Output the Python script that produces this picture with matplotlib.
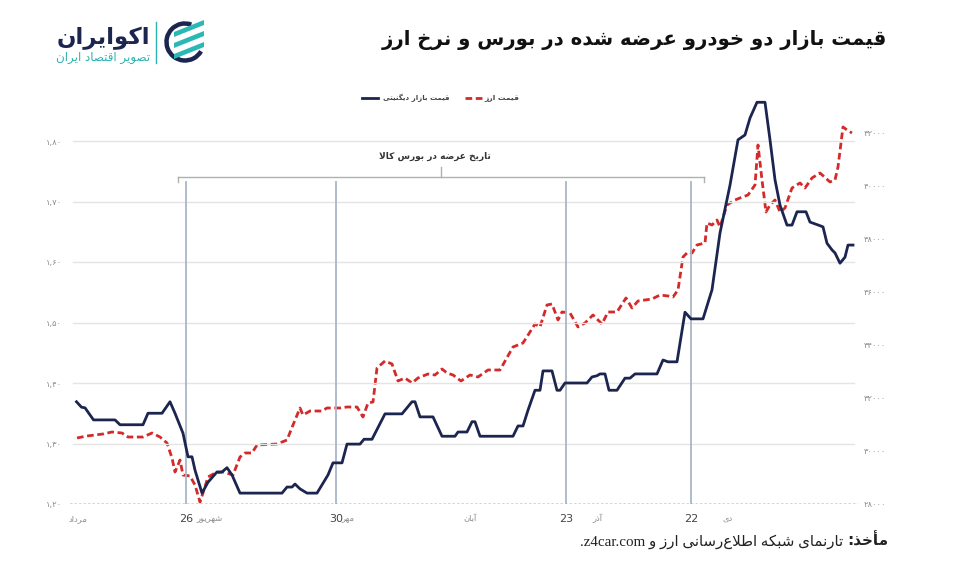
import matplotlib
matplotlib.use('Agg')
import matplotlib.pyplot as plt
from matplotlib.lines import Line2D
from matplotlib.patches import Arc, Polygon

# ---------------- data ----------------
dignity_days = [0.3, 1.3, 2, 3.7, 8, 9, 13.6, 14.6, 17.4, 19, 20, 21.6, 22.6, 23.4, 24, 25.4,
                26.6, 28.4, 29.4, 30.4, 31.4, 33, 41.4, 42.4, 43.4, 44, 45, 46.4, 48.4, 50.6,
                51.6, 53.4, 54.4, 57, 57.8, 59.4, 62, 65.4, 67.4, 68, 69, 71.6, 73.4, 76, 76.6,
                78.4, 79.4, 80, 81, 87.6, 88.6, 89.6, 90.6, 92, 93, 93.6, 95.4, 96.4, 97, 98,
                102.4, 103.4, 104.4, 105, 106, 106.8, 108.4, 110, 111, 112, 116.4, 117.6, 118.6,
                120.4, 122, 123.2, 125.6, 127.4, 129, 131, 132.6, 134, 135, 136.4, 138, 139, 140,
                141, 142.4, 143.4, 144.4, 146.2, 147, 149, 149.6, 150.4, 151.4, 152, 153, 154,
                154.6, 155.6]
dignity_price = [1.369, 1.360, 1.359, 1.339, 1.339, 1.331, 1.331, 1.350, 1.350, 1.369, 1.350,
                 1.317, 1.278, 1.278, 1.256, 1.218, 1.236, 1.253, 1.253, 1.260, 1.248, 1.218,
                 1.218, 1.228, 1.228, 1.233, 1.225, 1.218, 1.218, 1.248, 1.268, 1.268, 1.299,
                 1.299, 1.307, 1.307, 1.349, 1.349, 1.369, 1.369, 1.344, 1.344, 1.312, 1.312,
                 1.319, 1.319, 1.336, 1.336, 1.312, 1.312, 1.329, 1.329, 1.355, 1.388, 1.388,
                 1.420, 1.420, 1.388, 1.388, 1.400, 1.400, 1.410, 1.412, 1.415, 1.415, 1.388,
                 1.388, 1.408, 1.408, 1.415, 1.415, 1.438, 1.435, 1.435, 1.517, 1.506, 1.506,
                 1.554, 1.648, 1.727, 1.802, 1.810, 1.838, 1.864, 1.864, 1.802, 1.736, 1.694,
                 1.661, 1.661, 1.683, 1.683, 1.666, 1.660, 1.658, 1.631, 1.620, 1.615, 1.598,
                 1.608, 1.628, 1.628]

fx_days = [0.4, 2.4, 5.6, 7.4, 9.4, 10.6, 13.6, 15.4, 17, 18.4, 19.4, 20, 20.6, 21, 21.6, 23,
           24, 25, 25.6, 26.6, 28, 29.6, 31.6, 33, 34, 35.4, 36.4, 40.4, 41.4, 42.4, 43.6, 45,
           45.6, 47, 49.4, 50.4, 53, 54.4, 56.4, 57.6, 58.6, 59.6, 60.4, 62, 63.4, 64.6, 66,
           67.4, 68.6, 70.6, 72, 73.4, 74.4, 75.6, 77.2, 79, 80.6, 82.6, 85, 87.6, 89.6, 91,
           92, 93, 94.4, 95.4, 96.6, 97.4, 99, 100.6, 102, 103.6, 105.4, 106.6, 108.4, 110.2,
           111.4, 112.6, 115.4, 117, 118.6, 119.6, 120.6, 121.6, 122.6, 123.4, 124.4, 126,
           126.4, 127.4, 128.4, 129, 130.4, 132, 133, 134.6, 136, 136.6, 137.4, 138.2, 139,
           140, 141, 142, 143.4, 145, 146, 147.4, 149, 151, 152, 152.6, 153.6, 154.4, 155.4]
fx_rate = [30491, 30566, 30642, 30717, 30679, 30528, 30528, 30679, 30528, 30302, 29736, 29208,
           29472, 29660, 29094, 29057, 28717, 28075, 28415, 29019, 29170, 29208, 29094, 29774,
           29925, 29925, 30227, 30264, 30340, 30415, 30981, 31623, 31358, 31509, 31509, 31623,
           31623, 31660, 31660, 31283, 31811, 31849, 33132, 33397, 33283, 32642, 32755, 32566,
           32755, 32906, 32868, 33095, 32944, 32868, 32642, 32868, 32793, 33057, 33057, 33925,
           34076, 34491, 34793, 34680, 35510, 35548, 34944, 35246, 35208, 34680, 34831, 35133,
           34793, 35246, 35246, 35774, 35397, 35661, 35736, 35887, 35850, 35812, 36076, 37321,
           37510, 37472, 37774, 37850, 38604, 38529, 38717, 38453, 39284, 39472, 39548, 39661,
           40038, 41548, 40227, 39019, 39284, 39472, 39019, 39170, 39925, 40114, 39925, 40303,
           40491, 40152, 40227, 40718, 42227, 42114, 42001]

left_ticks = [1.2, 1.3, 1.4, 1.5, 1.6, 1.7, 1.8]
left_labels = ['۱,۲۰', '۱,۳۰', '۱,۴۰', '۱,۵۰', '۱,۶۰', '۱,۷۰', '۱,۸۰']
right_ticks = [28000, 30000, 32000, 34000, 36000, 38000, 40000, 42000]
right_labels = ['۲۸۰۰۰', '۳۰۰۰۰', '۳۲۰۰۰', '۳۴۰۰۰', '۳۶۰۰۰', '۳۸۰۰۰', '۴۰۰۰۰', '۴۲۰۰۰']
month_days = [0.6, 27, 54.6, 79, 104.4, 130.6]
month_names = ['مرداد', 'شهریور', 'مهر', 'آبان', 'آذر', 'دی']
event_days = [22.2, 52.2, 98.2, 123.2]
event_labels = ['26', '30', '23', '22']
bracket_days = [20.6, 125.8]

title_text = 'قیمت بازار دو خودرو عرضه شده در بورس و نرخ ارز'
legend_dignity = 'قیمت بازار دیگنیتی'
legend_fx = 'قیمت ارز'
bracket_text = 'تاریخ عرضه در بورس کالا'
logo_main = 'اکوایران'
logo_sub = 'تصویر اقتصاد ایران'
source_bold = 'مأخذ:'
source_rest = 'تارنمای شبکه اطلاع\u200cرسانی ارز و'
source_latin = 'z4car.com'

# ---------------- minimal Arabic-script shaping ----------------
FORMS = {
    'ا': ('\uFE8D', '\uFE8E', None, None), 'آ': ('\uFE81', '\uFE82', None, None),
    'أ': ('\uFE83', '\uFE84', None, None),
    'ب': ('\uFE8F', '\uFE90', '\uFE91', '\uFE92'), 'ت': ('\uFE95', '\uFE96', '\uFE97', '\uFE98'),
    'خ': ('\uFEA5', '\uFEA6', '\uFEA7', '\uFEA8'), 'د': ('\uFEA9', '\uFEAA', None, None),
    'ذ': ('\uFEAB', '\uFEAC', None, None), 'ر': ('\uFEAD', '\uFEAE', None, None),
    'ز': ('\uFEAF', '\uFEB0', None, None), 'س': ('\uFEB1', '\uFEB2', '\uFEB3', '\uFEB4'),
    'ش': ('\uFEB5', '\uFEB6', '\uFEB7', '\uFEB8'), 'ص': ('\uFEB9', '\uFEBA', '\uFEBB', '\uFEBC'),
    'ض': ('\uFEBD', '\uFEBE', '\uFEBF', '\uFEC0'), 'ط': ('\uFEC1', '\uFEC2', '\uFEC3', '\uFEC4'),
    'ع': ('\uFEC9', '\uFECA', '\uFECB', '\uFECC'), 'ق': ('\uFED5', '\uFED6', '\uFED7', '\uFED8'),
    'ل': ('\uFEDD', '\uFEDE', '\uFEDF', '\uFEE0'), 'م': ('\uFEE1', '\uFEE2', '\uFEE3', '\uFEE4'),
    'ن': ('\uFEE5', '\uFEE6', '\uFEE7', '\uFEE8'), 'ه': ('\uFEE9', '\uFEEA', '\uFEEB', '\uFEEC'),
    'و': ('\uFEED', '\uFEEE', None, None), 'ی': ('\uFBFC', '\uFBFD', '\uFBFE', '\uFBFF'),
    'ک': ('\uFB8E', '\uFB8F', '\uFB90', '\uFB91'), 'گ': ('\uFB92', '\uFB93', '\uFB94', '\uFB95'),
}
LAMALEF = {'ا': ('\uFEFB', '\uFEFC'), 'آ': ('\uFEF5', '\uFEF6'), 'أ': ('\uFEF7', '\uFEF8')}


def _dual(c):
    f = FORMS.get(c)
    return f is not None and f[2] is not None


def shape(s):
    ch = list(s)
    n = len(ch)
    res = []
    i = 0
    while i < n:
        c = ch[i]
        if c not in FORMS:
            if c != '\u200c':
                res.append(c)
            i += 1
            continue
        cp = i > 0 and _dual(ch[i - 1])
        if c == 'ل' and i + 1 < n and ch[i + 1] in LAMALEF:
            lig = LAMALEF[ch[i + 1]]
            res.append(lig[1] if cp else lig[0])
            i += 2
            continue
        cn = _dual(c) and i + 1 < n and ch[i + 1] in FORMS
        iso, fin, ini, med = FORMS[c]
        if cp and cn:
            res.append(med)
        elif cp:
            res.append(fin)
        elif cn:
            res.append(ini)
        else:
            res.append(iso)
        i += 1
    return ''.join(res)


def rtl(s):
    return shape(s)[::-1]


# ---------------- figure ----------------
W, H = 979, 572
fig = plt.figure(figsize=(W / 100, H / 100), dpi=100)
fig.patch.set_facecolor('white')


def px(x, y):
    return (x / W, 1 - y / H)


AR = ['DejaVu Sans']
NAVY = '#1b2550'
RED = '#d42a2a'
GRAY = '#8c8c8c'
VLINE = '#a9b5c7'

ax = fig.add_axes([70 / W, 1 - 504 / H, (858 - 70) / W, (504 - 95) / H])
ax2 = ax.twinx()
ax.set_xlim(-1, 156.6)
ax.set_ylim(1.2, 1.2 + 409 / 605)
ax2.set_ylim(28000, 28000 + 409 * 2000 / 53)

for a in (ax, ax2):
    for sp in a.spines.values():
        sp.set_visible(False)
    a.set_facecolor('none')

ax.set_zorder(ax2.get_zorder() + 1)
ax.patch.set_visible(False)

# gridlines
for t in left_ticks[1:]:
    ax.axhline(t, xmin=0.004, xmax=0.995, color='#e4e4e4', lw=1.0, zorder=0)
ax.axhline(1.2, color='#cfcfcf', lw=1.2, ls=(0, (1.5, 1.2)), zorder=0)

# event vertical lines and bracket
for d in event_days:
    ax.plot([d, d], [1.2, 1.732], color=VLINE, lw=1.3, zorder=1)
ax.plot(bracket_days, [1.740, 1.740], color='#b0b0b0', lw=1.0, clip_on=False)
for d in bracket_days:
    ax.plot([d, d], [1.740, 1.732], color='#b0b0b0', lw=1.0, clip_on=False)
mid = sum(bracket_days) / 2
ax.plot([mid, mid], [1.740, 1.757], color='#b0b0b0', lw=1.0, clip_on=False)
ax.text(mid - 1.3, 1.774, rtl(bracket_text), ha='center', va='center', fontsize=6.5,
        fontweight='bold', color='#333333', family=AR)

# data lines
ax2.plot(fx_days, fx_rate, color=RED, lw=2.0, ls=(0, (2.4, 1.3)), zorder=3)
ax.plot(dignity_days, dignity_price, color=NAVY, lw=2.0, zorder=4)

# ticks
ax.set_yticks(left_ticks)
ax.set_yticklabels(left_labels, fontsize=6, color=GRAY, family=AR)
ax.tick_params(axis='y', length=0, pad=6)
ax2.set_yticks(right_ticks)
ax2.set_yticklabels(right_labels, fontsize=6, color=GRAY, family=AR)
ax2.tick_params(axis='y', length=0, pad=4)

xt = month_days + event_days
xl = [rtl(m) for m in month_names] + event_labels
ax.set_xticks(xt)
ax.set_xticklabels(xl)
ax.tick_params(axis='x', length=0, pad=7)
for i, lab in enumerate(ax.get_xticklabels()):
    if i < len(month_days):
        lab.set_fontsize(6)
        lab.set_color(GRAY)
        lab.set_family(AR)
    else:
        lab.set_fontsize(8)
        lab.set_color('#444444')
        lab.set_family(['DejaVu Sans'])

# legend (manual, RTL)
fig.add_artist(Line2D([px(362, 0)[0], px(378, 0)[0]], [px(0, 98)[1]] * 2, color=NAVY, lw=2.0))
fig.text(*px(383, 98), rtl(legend_dignity), ha='left', va='center', fontsize=5.0,
         color='#444444', fontweight='bold', family=AR)
fig.add_artist(Line2D([px(465, 0)[0], px(482, 0)[0]], [px(0, 98)[1]] * 2, color=RED, lw=2.0,
                      ls=(0, (2.4, 1.3))))
fig.text(*px(484, 98), rtl(legend_fx), ha='left', va='center', fontsize=5.4,
         color='#444444', fontweight='bold', family=AR)

# title
fig.text(*px(887, 40), rtl(title_text), ha='right', va='center', fontsize=14.1,
         fontweight='bold', color='#111111', family=AR)

# logo
fig.text(*px(150, 38), rtl(logo_main), ha='right', va='center', fontsize=16.5,
         fontweight='bold', color=NAVY, family=AR)
fig.text(*px(150, 58), rtl(logo_sub), ha='right', va='center', fontsize=8.6,
         color='#2bb3b1', family=AR)
fig.add_artist(Line2D([px(156, 0)[0]] * 2, [px(0, 22)[1], px(0, 63)[1]], color='#2bb3b1', lw=1.0))
lax = fig.add_axes([163 / W, 1 - 64 / H, 44 / W, 44 / H])
lax.set_xlim(-1.1, 1.1)
lax.set_ylim(-1.1, 1.1)
lax.set_aspect('equal')
lax.axis('off')
lax.add_patch(Arc((0, 0), 1.85, 1.85, theta1=70, theta2=330, color=NAVY, lw=3.2))
TEAL = '#2bb8b5'
for k, off in enumerate([0.55, 0.0, -0.55]):
    lax.add_patch(Polygon([(-0.55, off - 0.05), (0.95, off + 0.55), (0.95, off + 0.3),
                           (-0.55, off - 0.3)], closed=True, color=TEAL, lw=0))

# source line
fig.canvas.draw()
tb = fig.text(*px(888, 541), rtl(source_bold), ha='right', va='center', fontsize=11,
              fontweight='bold', color='#222222', family=AR)
fig.canvas.draw()
bb = tb.get_window_extent()
x_rest = bb.x0 - 4
fig.text(x_rest / W, px(0, 542)[1], '.' + source_latin + ' ' + rtl(source_rest), ha='right',
         va='center', fontsize=10.8, color='#222222', family=['Liberation Serif', 'DejaVu Sans'])

fig.savefig('out.png', dpi=100, facecolor='white')
